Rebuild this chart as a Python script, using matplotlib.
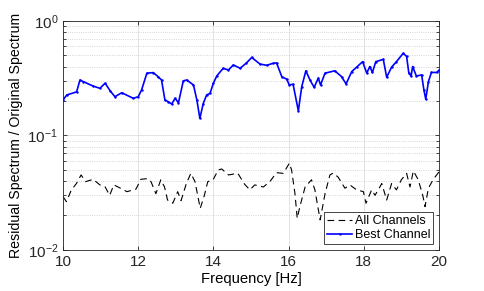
import numpy as np
import matplotlib
matplotlib.use('Agg')
import matplotlib.pyplot as plt
from matplotlib.ticker import LogLocator, NullFormatter

plt.rcParams['font.family'] = ['Liberation Sans', 'DejaVu Sans']
plt.rcParams['font.size'] = 10.5

# Best Channel (blue)
best_f = [10.0, 10.1, 10.36, 10.45, 10.54, 10.8, 10.98, 11.12, 11.25, 11.38, 11.56, 11.87,
          12.0, 12.09, 12.23, 12.4, 12.53, 12.62, 12.71, 12.8, 12.89, 12.98, 13.07, 13.2,
          13.29, 13.47, 13.56, 13.64, 13.73, 13.82, 13.91, 14.0, 14.09, 14.26, 14.4, 14.53,
          14.71, 14.88, 15.02, 15.24, 15.42, 15.59, 15.68, 15.82, 15.95, 16.02, 16.12, 16.26,
          16.35, 16.46, 16.57, 16.68, 16.79, 16.85, 16.97, 17.23, 17.41, 17.53, 17.68, 17.81,
          17.97, 18.08, 18.16, 18.23, 18.32, 18.52, 18.61, 18.74, 18.87, 19.05, 19.14, 19.2,
          19.26, 19.3, 19.4, 19.54, 19.6, 19.65, 19.72, 19.8, 19.94, 20.0]
best_v = [0.204, 0.226, 0.24, 0.305, 0.295, 0.27, 0.258, 0.286, 0.246, 0.218, 0.236, 0.211,
          0.218, 0.25, 0.35, 0.354, 0.326, 0.305, 0.204, 0.197, 0.188, 0.211, 0.193, 0.30,
          0.305, 0.276, 0.204, 0.141, 0.19, 0.226, 0.233, 0.286, 0.331, 0.386, 0.373, 0.413,
          0.386, 0.43, 0.48, 0.42, 0.41, 0.427, 0.43, 0.326, 0.31, 0.276, 0.28, 0.164,
          0.267, 0.367, 0.305, 0.263, 0.317, 0.276, 0.35, 0.367, 0.326, 0.282, 0.361, 0.395,
          0.441, 0.35, 0.40, 0.355, 0.441, 0.462, 0.322, 0.395, 0.441, 0.522, 0.49, 0.35,
          0.33, 0.40, 0.33, 0.338, 0.25, 0.207, 0.295, 0.355, 0.355, 0.37]

# All Channels (black dashed)
all_f = [10.0, 10.09, 10.22, 10.36, 10.48, 10.6, 10.8, 10.98, 11.12, 11.24, 11.35, 11.53,
         11.7, 11.94, 12.07, 12.25, 12.34, 12.47, 12.6, 12.7, 12.78, 12.92, 13.05, 13.14,
         13.28, 13.4, 13.51, 13.65, 13.76, 13.85, 13.99, 14.13, 14.22, 14.4, 14.65, 14.83,
         14.97, 15.1, 15.33, 15.5, 15.68, 15.86, 16.02, 16.08, 16.17, 16.23, 16.3, 16.44,
         16.61, 16.7, 16.84, 16.97, 17.1, 17.19, 17.32, 17.5, 17.63, 17.81, 17.99, 18.06,
         18.21, 18.3, 18.48, 18.61, 18.74, 18.87, 19.0, 19.14, 19.23, 19.32, 19.45, 19.57,
         19.63, 19.72, 19.85, 20.0]
all_v = [0.0292, 0.0264, 0.0334, 0.0382, 0.0452, 0.0395, 0.0414, 0.037, 0.0355, 0.030, 0.037, 0.0346,
         0.0323, 0.034, 0.0414, 0.042, 0.0395, 0.031, 0.041, 0.0355, 0.0273, 0.0256, 0.0323, 0.027,
         0.038, 0.0467, 0.0395, 0.0231, 0.030, 0.0395, 0.041, 0.050, 0.051, 0.0452, 0.0467, 0.0375,
         0.0335, 0.037, 0.0355, 0.0395, 0.0473, 0.0467, 0.0572, 0.050, 0.031, 0.0189, 0.0239, 0.0355,
         0.041, 0.0335, 0.0183, 0.031, 0.0452, 0.047, 0.0432, 0.0346, 0.037, 0.0335, 0.0323, 0.0256,
         0.0335, 0.030, 0.038, 0.0273, 0.038, 0.0335, 0.041, 0.0467, 0.0355, 0.049, 0.041, 0.030,
         0.0239, 0.0346, 0.0414, 0.048]

fig = plt.figure(figsize=(4.85, 2.91), dpi=100)
ax = fig.add_axes([0.13, 0.141, 0.775, 0.787])

ax.plot(all_f, all_v, 'k--', lw=0.8, dashes=(6, 4), label='All Channels')
ax.plot(best_f, best_v, '-', color='#0000ff', lw=1.2, marker='.', markersize=1.5, label='Best Channel')

ax.set_yscale('log')
ax.set_xlim(10, 20)
ax.set_ylim(1e-2, 1)
ax.set_xticks([10, 12, 14, 16, 18, 20])
ax.yaxis.set_minor_locator(LogLocator(base=10, subs=np.arange(2, 10)))
ax.yaxis.set_minor_formatter(NullFormatter())

ax.grid(True, which='major', color='#dedede', lw=0.6)
ax.grid(True, which='minor', axis='y', color='#c8c8c8', ls=':', lw=0.6)
ax.set_axisbelow(True)
ax.tick_params(direction='in', top=True, right=True, which='both', length=3, width=0.6,
               colors='#262626', labelsize=11)
ax.tick_params(which='minor', length=2)
for s in ax.spines.values():
    s.set_color('#262626')
    s.set_linewidth(0.6)

ax.set_xlabel('Frequency [Hz]', fontsize=10.7, labelpad=2)
ax.set_ylabel('Residual Spectrum / Original Spectrum', fontsize=10.2, labelpad=3)

leg = ax.legend(loc='lower right', fancybox=False, edgecolor='#262626', framealpha=1,
                fontsize=9, borderpad=0.25, labelspacing=0.15, handlelength=2.0, handletextpad=0.2,
                borderaxespad=0.45)
leg.get_frame().set_linewidth(0.6)

fig.savefig('out.png', dpi=100)
